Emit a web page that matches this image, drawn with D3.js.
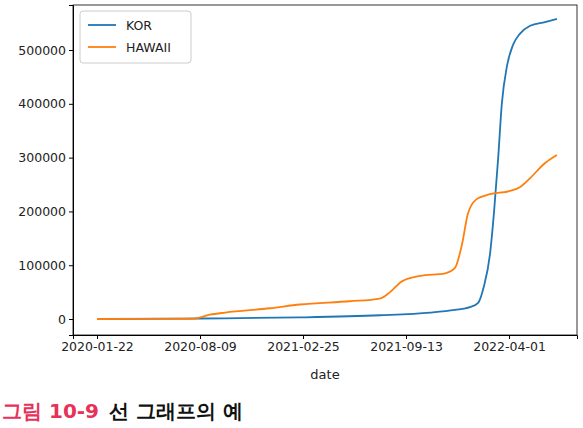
<!DOCTYPE html>
<html><head><meta charset="utf-8">
<script src="https://cdn.jsdelivr.net/npm/d3@7"></script>
<style>body{margin:0;background:#fff}text{font-family:"DejaVu Sans",sans-serif}</style>
</head><body>
<svg id="chart" width="583" height="428"></svg>
<script>
const korDates = ["2020-01-22","2020-08-09","2021-02-19","2021-07-24","2021-10-30","2021-12-17","2022-01-15","2022-01-31","2022-02-11","2022-02-23","2022-03-03","2022-03-11","2022-03-18","2022-03-28","2022-04-09","2022-04-22","2022-05-12","2022-06-10","2022-07-03"];
const korValues = [0,1000,3000,7000,12000,17000,22000,30000,60000,120000,200000,300000,400000,470000,510000,530000,545000,552000,558000];
const hawDates = ["2020-01-22","2020-07-25","2020-08-28","2020-09-27","2020-12-23","2021-02-19","2021-05-27","2021-07-24","2021-08-13","2021-09-05","2021-10-10","2021-11-28","2021-12-17","2021-12-31","2022-01-11","2022-01-27","2022-02-23","2022-04-03","2022-04-22","2022-05-12","2022-06-10","2022-07-03"];
const hawValues = [0,500,8000,12000,20000,27000,33000,38000,50000,70000,80000,85000,95000,140000,195000,222000,232000,238000,245000,262000,290000,305000];
const xTicks = ["2020-01-22","2020-08-09","2021-02-25","2021-09-13","2022-04-01"];
const yTicks = [0,100000,200000,300000,400000,500000];

const parse = d3.utcParse("%Y-%m-%d");
const day0 = parse("2020-01-22");
const addDays = n => new Date(day0.getTime() + n * 864e5);

const svg = d3.select("#chart");
const m = {left: 73, right: 6, top: 5, bottom: 93};
const W = 583, H = 428;
const x = d3.scaleUtc().domain([addDays(-46.6), addDays(932)]).range([m.left, W - m.right]);
const y = d3.scaleLinear().domain([-29700, 583700]).range([H - m.bottom, m.top]);

svg.append("g").attr("transform", `translate(0,${H - m.bottom})`)
  .call(d3.axisBottom(x).tickValues(xTicks.map(parse)).tickFormat(d3.utcFormat("%Y-%m-%d")).tickSizeOuter(0).tickSize(4))
  .call(g => g.selectAll("text").attr("font-size", 12.5).attr("fill", "#222"));
svg.append("g").attr("transform", `translate(${m.left},0)`)
  .call(d3.axisLeft(y).tickValues(yTicks).tickFormat(d3.format("d")).tickSizeOuter(0).tickSize(4))
  .call(g => g.selectAll("text").attr("font-size", 12.5).attr("fill", "#222"));
svg.append("rect").attr("x", m.left).attr("y", m.top).attr("width", W - m.left - m.right)
  .attr("height", H - m.top - m.bottom).attr("fill", "none").attr("stroke", "#000").attr("stroke-width", 0.8);

const line = d3.line().x(d => x(d[0])).y(d => y(d[1])).curve(d3.curveMonotoneX);
const series = [
  {name: "KOR", color: "#1f77b4", pts: korDates.map((d, i) => [parse(d), korValues[i]])},
  {name: "HAWAII", color: "#ff7f0e", pts: hawDates.map((d, i) => [parse(d), hawValues[i]])}
];
series.forEach(s => svg.append("path").attr("d", line(s.pts)).attr("fill", "none")
  .attr("stroke", s.color).attr("stroke-width", 1.8));

svg.append("text").attr("x", (m.left + W - m.right) / 2).attr("y", 379).attr("text-anchor", "middle")
  .attr("font-size", 13).attr("fill", "#222").text("date");

const lg = svg.append("g").attr("transform", "translate(80,11)");
lg.append("rect").attr("width", 111).attr("height", 52).attr("rx", 3).attr("fill", "#fff")
  .attr("stroke", "#ccc");
series.forEach((s, i) => {
  lg.append("line").attr("x1", 8).attr("x2", 36).attr("y1", 14 + i * 22).attr("y2", 14 + i * 22)
    .attr("stroke", s.color).attr("stroke-width", 1.8);
  lg.append("text").attr("x", 46).attr("y", 19 + i * 22).attr("font-size", 12.5).attr("fill", "#222").text(s.name);
});

const cap = svg.append("text").attr("x", 2).attr("y", 418).attr("font-family", "Noto Sans CJK KR")
  .attr("font-size", 20).attr("font-weight", "bold");
cap.append("tspan").attr("fill", "#e6325a").text("그림 10-9");
cap.append("tspan").attr("fill", "#111").attr("dx", 10).text("선 그래프의 예");
</script>
</body></html>
